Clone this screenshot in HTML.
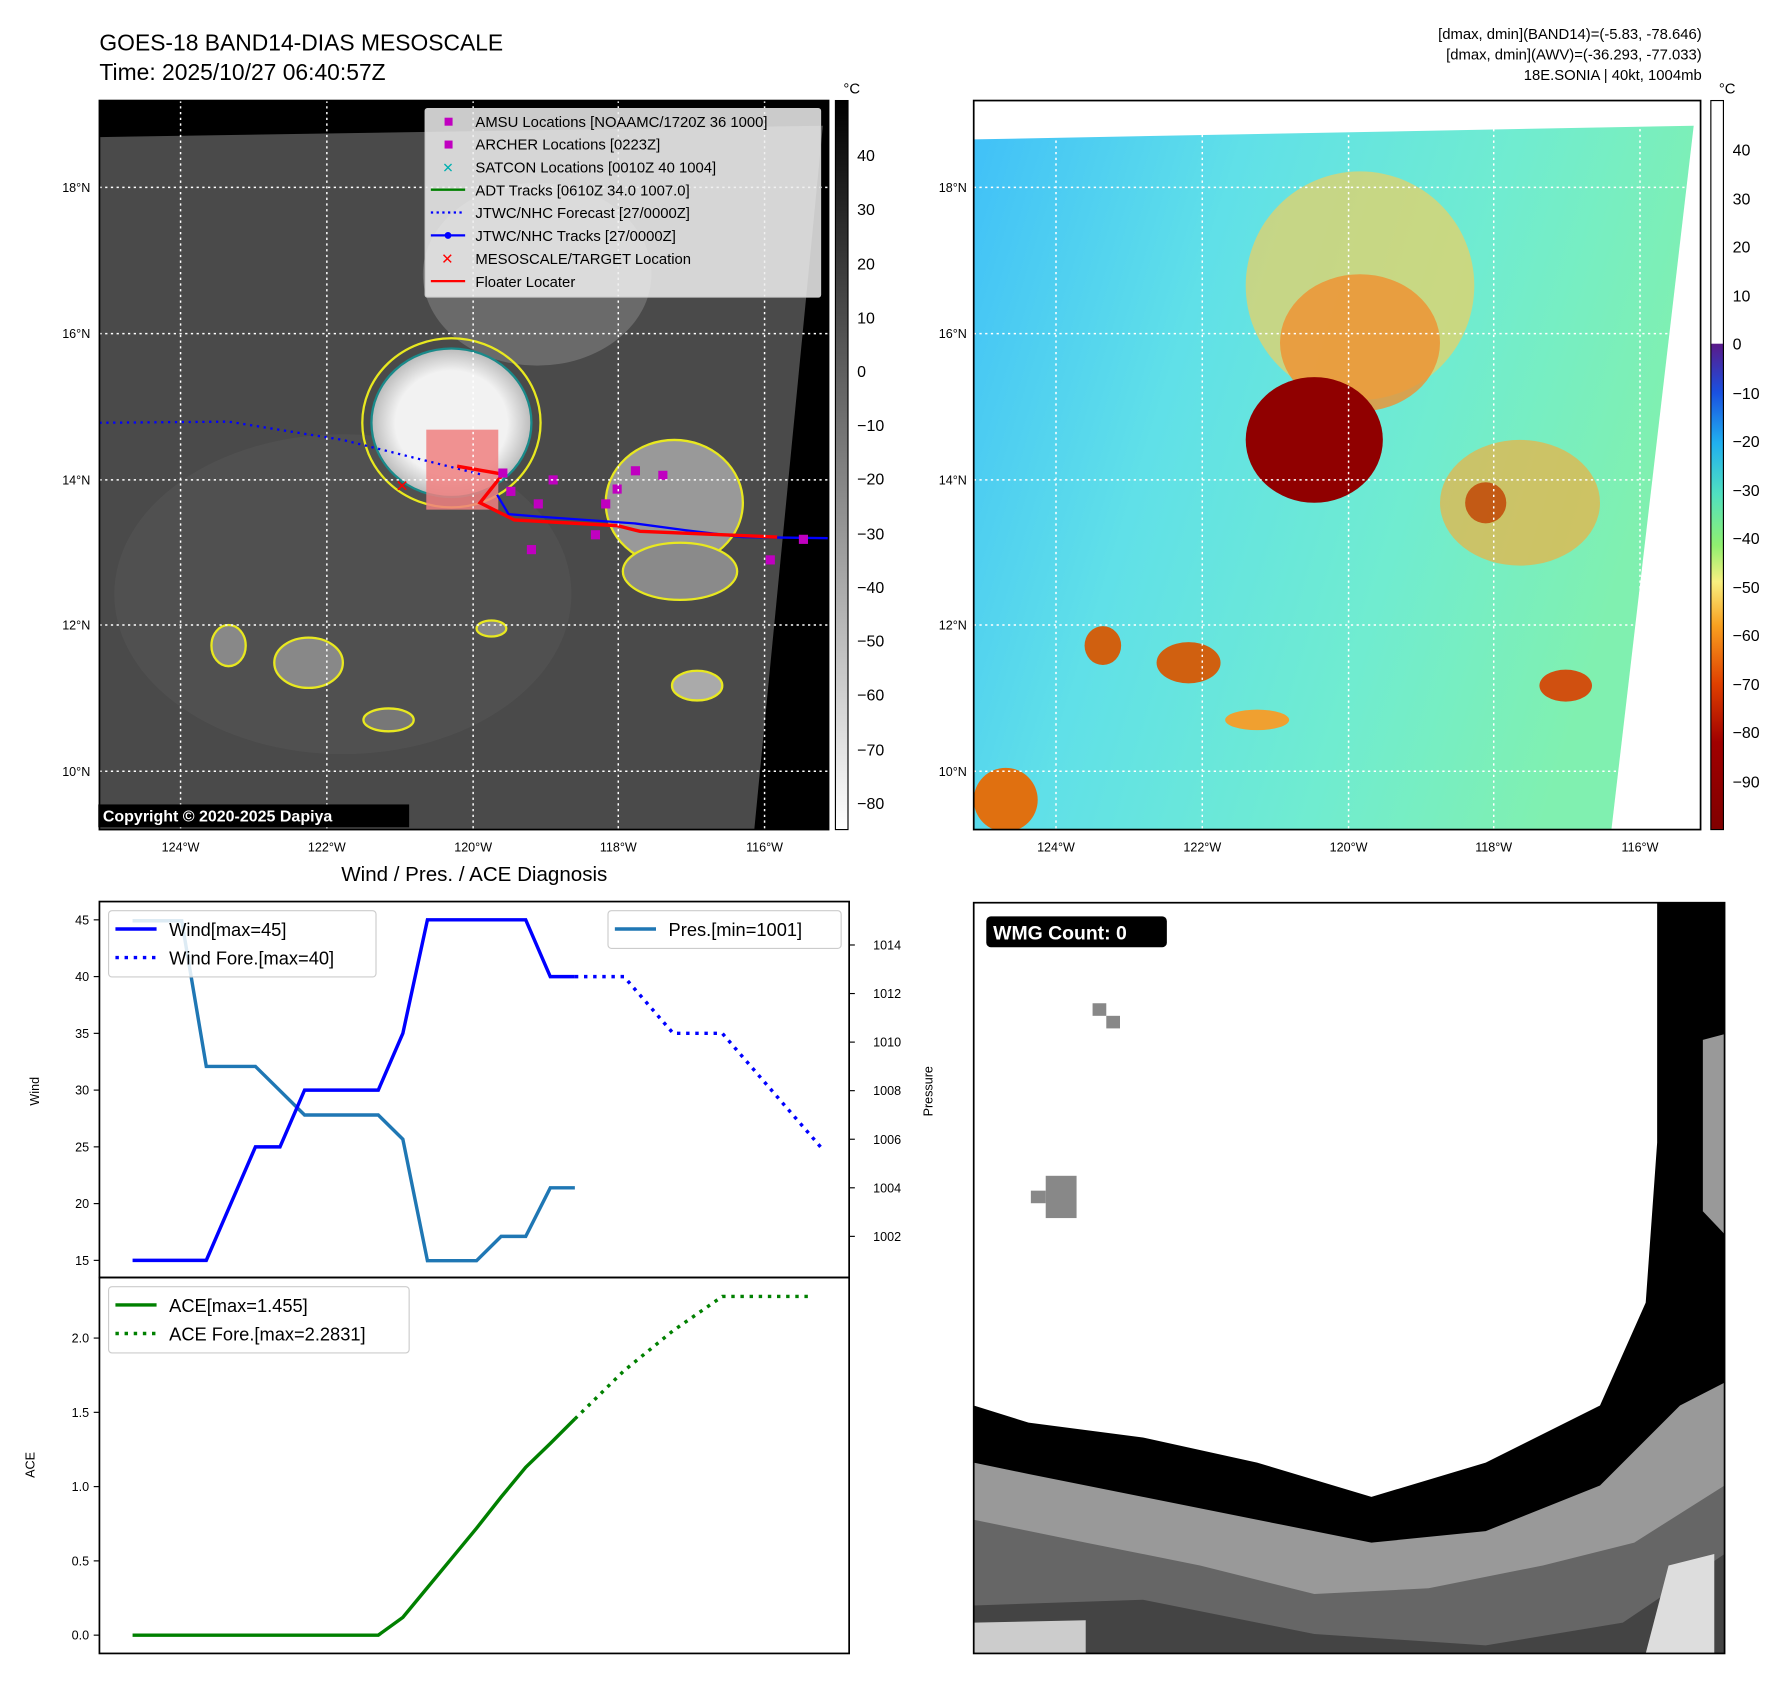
<!DOCTYPE html>
<html><head><meta charset="utf-8"><style>
html,body{margin:0;padding:0;background:#fff}
svg{display:block;font-family:"Liberation Sans","DejaVu Sans",sans-serif}
</style></head><body>
<svg id="root" width="1792" height="1690" viewBox="0 0 1568 1479" preserveAspectRatio="none" xmlns="http://www.w3.org/2000/svg">
<defs>
<linearGradient id="cbGray" x1="0" y1="0" x2="0" y2="1"><stop offset="0" stop-color="#000"/><stop offset="1" stop-color="#fff"/></linearGradient>
<linearGradient id="cbColor" x1="0" y1="0" x2="0" y2="1">
<stop offset="0" stop-color="#fff"/><stop offset="0.333" stop-color="#fff"/><stop offset="0.334" stop-color="#5a1a8a"/><stop offset="0.40" stop-color="#1a50e0"/><stop offset="0.47" stop-color="#20b0f0"/><stop offset="0.54" stop-color="#50e0c0"/><stop offset="0.61" stop-color="#90f070"/><stop offset="0.66" stop-color="#f8f080"/><stop offset="0.72" stop-color="#f8a020"/><stop offset="0.80" stop-color="#e04000"/><stop offset="0.88" stop-color="#a00000"/><stop offset="1" stop-color="#800000"/></linearGradient>
<linearGradient id="ocean" x1="0" y1="0" x2="1" y2="0.3"><stop offset="0" stop-color="#40c0f8"/><stop offset="0.35" stop-color="#60e0e8"/><stop offset="0.7" stop-color="#70ecd0"/><stop offset="1" stop-color="#80f0b0"/></linearGradient>
<radialGradient id="storm" cx="0.5" cy="0.5" r="0.5"><stop offset="0.7" stop-color="#f2f2f2"/><stop offset="1" stop-color="#bbb"/></radialGradient>
<clipPath id="clipL"><rect x="87" y="88" width="638" height="638"/></clipPath>
<clipPath id="clipR"><rect x="852" y="88" width="636" height="638"/></clipPath>
</defs>

<text x="87" y="44" font-size="20">GOES-18 BAND14-DIAS MESOSCALE</text>
<text x="87" y="70" font-size="20">Time: 2025/10/27 06:40:57Z</text>
<g font-size="13" text-anchor="end">
<text x="1489" y="34">[dmax, dmin](BAND14)=(-5.83, -78.646)</text>
<text x="1489" y="52">[dmax, dmin](AWV)=(-36.293, -77.033)</text>
<text x="1489" y="70">18E.SONIA | 40kt, 1004mb</text>
</g>

<g clip-path="url(#clipL)">
<rect x="87" y="88" width="638" height="638" fill="#000"/>
<polygon points="87,120 720,110 660,726 87,726" fill="#4a4a4a"/>
<ellipse cx="300" cy="520" rx="200" ry="140" fill="#555" opacity="0.6"/>
<ellipse cx="470" cy="240" rx="100" ry="80" fill="#6a6a6a"/>
<ellipse cx="395" cy="370" rx="70" ry="65" fill="url(#storm)" stroke="#1a8a8a" stroke-width="2"/>
<ellipse cx="395" cy="370" rx="78" ry="74" fill="none" stroke="#e8e820" stroke-width="2"/>
<ellipse cx="590" cy="440" rx="60" ry="55" fill="#999" stroke="#e8e820" stroke-width="2"/>
<ellipse cx="595" cy="500" rx="50" ry="25" fill="#8a8a8a" stroke="#e8e820" stroke-width="2"/>
<ellipse cx="610" cy="600" rx="22" ry="13" fill="#aaa" stroke="#e8e820" stroke-width="2"/>
<ellipse cx="270" cy="580" rx="30" ry="22" fill="#888" stroke="#e8e820" stroke-width="2"/>
<ellipse cx="200" cy="565" rx="15" ry="18" fill="#888" stroke="#e8e820" stroke-width="2"/>
<ellipse cx="340" cy="630" rx="22" ry="10" fill="#777" stroke="#e8e820" stroke-width="2"/>
<ellipse cx="430" cy="550" rx="13" ry="7" fill="#888" stroke="#e8e820" stroke-width="2"/>
<rect x="373" y="376" width="63" height="70" fill="#f08080" opacity="0.85"/>
<path d="M87,370 L200,369 L300,385 L380,405 L420,415" stroke="#0000ff" stroke-width="2" stroke-dasharray="2,4" fill="none"/>
<path d="M435,433 L445,450 L470,452 L555,458 L600,464 L650,470 L725,471" stroke="#00f" stroke-width="2" fill="none"/>
<path d="M400,408 L440,415 L420,440 L450,455 L540,460 L560,465 L680,470" stroke="#f00" stroke-width="3" fill="none"/>
<text x="346" y="430" fill="#f00" font-size="14">✕</text>
<g fill="#c000c0"><rect x="436" y="410" width="8" height="8"/><rect x="480" y="416" width="8" height="8"/><rect x="443" y="426" width="8" height="8"/><rect x="467" y="437" width="8" height="8"/><rect x="526" y="437" width="8" height="8"/><rect x="536" y="424" width="8" height="8"/><rect x="552" y="408" width="8" height="8"/><rect x="576" y="412" width="8" height="8"/><rect x="517" y="464" width="8" height="8"/><rect x="461" y="477" width="8" height="8"/><rect x="699" y="468" width="8" height="8"/><rect x="670" y="486" width="8" height="8"/></g>
<g stroke="#fff" stroke-width="1.3" stroke-dasharray="2,3"><line x1="158" y1="88" x2="158" y2="726"/><line x1="286" y1="88" x2="286" y2="726"/><line x1="414" y1="88" x2="414" y2="726"/><line x1="541" y1="88" x2="541" y2="726"/><line x1="669" y1="88" x2="669" y2="726"/><line x1="87" y1="164" x2="725" y2="164"/><line x1="87" y1="292" x2="725" y2="292"/><line x1="87" y1="420" x2="725" y2="420"/><line x1="87" y1="547" x2="725" y2="547"/><line x1="87" y1="675" x2="725" y2="675"/></g>
</g>
<rect x="87" y="88" width="638" height="638" fill="none" stroke="#000" stroke-width="1.5"/>
<rect x="86" y="704" width="272" height="20" fill="#000"/>
<text x="90" y="719" font-size="14" font-weight="bold" fill="#fff">Copyright © 2020-2025 Dapiya</text>

<g font-size="13">
<rect x="372" y="95" width="346" height="165" fill="#eee" fill-opacity="0.85" stroke="#ccc" rx="2"/>
<rect x="389" y="103" width="7" height="7" fill="#c000c0"/><text x="416" y="111">AMSU Locations [NOAAMC/1720Z 36 1000]</text>
<rect x="389" y="123" width="7" height="7" fill="#c000c0"/><text x="416" y="131">ARCHER Locations [0223Z]</text>
<text x="387" y="151" fill="#00b0b0" font-size="12">✕</text><text x="416" y="151">SATCON Locations [0010Z 40 1004]</text>
<line x1="377" y1="166" x2="407" y2="166" stroke="#008000" stroke-width="2"/><text x="416" y="171">ADT Tracks [0610Z 34.0 1007.0]</text>
<line x1="377" y1="186" x2="407" y2="186" stroke="#00f" stroke-width="2" stroke-dasharray="2,3"/><text x="416" y="191">JTWC/NHC Forecast [27/0000Z]</text>
<line x1="377" y1="206" x2="407" y2="206" stroke="#00f" stroke-width="2"/><circle cx="392" cy="206" r="3" fill="#00f"/><text x="416" y="211">JTWC/NHC Tracks [27/0000Z]</text>
<text x="386" y="231" fill="#f00" font-size="13">✕</text><text x="416" y="231">MESOSCALE/TARGET Location</text>
<line x1="377" y1="246" x2="407" y2="246" stroke="#f00" stroke-width="2"/><text x="416" y="251">Floater Locater</text>
</g>

<rect x="731" y="88" width="11" height="638" fill="url(#cbGray)" stroke="#000"/>
<text x="738" y="82" font-size="13">°C</text>
<g font-size="14">
<text x="750" y="141">40</text><text x="750" y="188">30</text><text x="750" y="236">20</text><text x="750" y="283">10</text><text x="750" y="330">0</text><text x="750" y="377">−10</text><text x="750" y="424">−20</text><text x="750" y="472">−30</text><text x="750" y="519">−40</text><text x="750" y="566">−50</text><text x="750" y="613">−60</text><text x="750" y="661">−70</text><text x="750" y="708">−80</text></g>

<g clip-path="url(#clipR)">
<rect x="852" y="88" width="636" height="638" fill="#fff"/>
<polygon points="852,122 1482,110 1410,726 852,726" fill="url(#ocean)"/>
<ellipse cx="1190" cy="250" rx="100" ry="100" fill="#f0d060" opacity="0.7"/>
<ellipse cx="1190" cy="300" rx="70" ry="60" fill="#f09030" opacity="0.8"/>
<ellipse cx="1150" cy="385" rx="60" ry="55" fill="#900000"/>
<ellipse cx="1330" cy="440" rx="70" ry="55" fill="#f0b040" opacity="0.7"/>
<ellipse cx="1300" cy="440" rx="18" ry="18" fill="#c04000" opacity="0.8"/>
<ellipse cx="1370" cy="600" rx="23" ry="14" fill="#d05010"/>
<ellipse cx="1040" cy="580" rx="28" ry="18" fill="#d06010"/>
<ellipse cx="965" cy="565" rx="16" ry="17" fill="#d06010"/>
<ellipse cx="1100" cy="630" rx="28" ry="9" fill="#f0a030"/>
<ellipse cx="880" cy="700" rx="28" ry="28" fill="#e07010"/>
<g stroke="#fff" stroke-width="1.3" stroke-dasharray="2,3"><line x1="924" y1="88" x2="924" y2="726"/><line x1="1052" y1="88" x2="1052" y2="726"/><line x1="1180" y1="88" x2="1180" y2="726"/><line x1="1307" y1="88" x2="1307" y2="726"/><line x1="1435" y1="88" x2="1435" y2="726"/><line x1="852" y1="164" x2="1488" y2="164"/><line x1="852" y1="292" x2="1488" y2="292"/><line x1="852" y1="420" x2="1488" y2="420"/><line x1="852" y1="547" x2="1488" y2="547"/><line x1="852" y1="675" x2="1488" y2="675"/></g>
</g>
<rect x="852" y="88" width="636" height="638" fill="none" stroke="#000" stroke-width="1.5"/>
<rect x="1497" y="88" width="11" height="638" fill="url(#cbColor)" stroke="#000"/>
<text x="1504" y="82" font-size="13">°C</text>
<g font-size="14">
<text x="1516" y="136">40</text><text x="1516" y="179">30</text><text x="1516" y="221">20</text><text x="1516" y="264">10</text><text x="1516" y="306">0</text><text x="1516" y="349">−10</text><text x="1516" y="391">−20</text><text x="1516" y="434">−30</text><text x="1516" y="476">−40</text><text x="1516" y="519">−50</text><text x="1516" y="561">−60</text><text x="1516" y="604">−70</text><text x="1516" y="646">−80</text><text x="1516" y="689">−90</text></g>

<g font-size="11" text-anchor="middle">
<text x="158" y="745">124°W</text><text x="286" y="745">122°W</text><text x="414" y="745">120°W</text><text x="541" y="745">118°W</text><text x="669" y="745">116°W</text>
<text x="924" y="745">124°W</text><text x="1052" y="745">122°W</text><text x="1180" y="745">120°W</text><text x="1307" y="745">118°W</text><text x="1435" y="745">116°W</text></g>
<g font-size="11" text-anchor="end">
<text x="79" y="168">18°N</text><text x="79" y="296">16°N</text><text x="79" y="424">14°N</text><text x="79" y="551">12°N</text><text x="79" y="679">10°N</text>
<text x="846" y="168">18°N</text><text x="846" y="296">16°N</text><text x="846" y="424">14°N</text><text x="846" y="551">12°N</text><text x="846" y="679">10°N</text></g>

<text x="415" y="771" font-size="18" text-anchor="middle">Wind / Pres. / ACE Diagnosis</text>

<g>
<rect x="852" y="790" width="657" height="657" fill="#fff"/>
<polygon points="1450,790 1509,790 1509,1447 852,1447 852,1230 900,1245 1000,1258 1100,1280 1200,1310 1300,1280 1400,1230 1440,1140 1450,1000" fill="#000"/>
<polygon points="1509,1210 1470,1230 1400,1300 1300,1340 1200,1350 1100,1330 1000,1310 900,1290 852,1280 852,1447 1509,1447" fill="#999"/>
<polygon points="852,1330 950,1350 1050,1370 1150,1395 1250,1390 1350,1370 1430,1350 1509,1300 1509,1447 852,1447" fill="#666"/>
<polygon points="852,1405 1000,1400 1150,1430 1300,1440 1420,1420 1509,1360 1509,1447 852,1447" fill="#444"/>
<polygon points="852,1420 950,1418 950,1447 852,1447" fill="#ccc"/>
<polygon points="1460,1370 1500,1360 1500,1447 1440,1447" fill="#ddd"/>
<polygon points="1490,910 1509,905 1509,1080 1490,1060" fill="#999"/>
<rect x="956" y="878" width="12" height="11" fill="#888"/><rect x="968" y="889" width="12" height="11" fill="#888"/>
<rect x="915" y="1029" width="27" height="37" fill="#888"/><rect x="902" y="1042" width="13" height="11" fill="#888"/>
<rect x="852" y="790" width="657" height="657" fill="none" stroke="#000" stroke-width="1.5"/>
<rect x="863" y="802" width="158" height="27" rx="4" fill="#000"/>
<text x="869" y="822" font-size="17" font-weight="bold" fill="#fff">WMG Count: 0</text>
</g>

<g id="windAx"></g>
<g id="aceAx"></g>
</svg>
<script>
const hours = [0,6,12,18,24,30,36,42,48,54,60,66,72,78,84,90,96,102,108];
const windValues = [15,15,15,15,20,25,25,30,30,30,30,35,45,45,45,45,45,40,40];
const presValues = [1015,1015,1015,1009,1009,1009,1008,1007,1007,1007,1007,1006,1001,1001,1001,1002,1002,1004,1004];
const foreHours = [108,120,132,144,168];
const foreWind = [40,40,35,35,25];
const aceValues = [0,0,0,0,0,0,0,0,0,0,0,0.12,0.32,0.52,0.72,0.93,1.13,1.29,1.455];
const aceForeHours = [108,120,132,144,166];
const aceFore = [1.455,1.78,2.05,2.28,2.28];
const windTicks = [15,20,25,30,35,40,45];
const presTicks = [1002,1004,1006,1008,1010,1012,1014];
const aceTicks = [0.0,0.5,1.0,1.5,2.0];

const NS='http://www.w3.org/2000/svg';
function mk(parent,tag,attrs){const e=document.createElementNS(NS,tag);for(const k in attrs)e.setAttribute(k,attrs[k]);parent.appendChild(e);return e;}
const X = h => 116 + (h/6)*21.5;
const Yw = v => 1103 - (v-15)*(298/30);
const Yp = v => 1082 - (v-1002)*(255/12);
const Ya = v => 1431 - v*130;
function pathD(xs,ys,fx,fy){return xs.map((x,i)=>(i?'L':'M')+fx(x).toFixed(1)+','+fy(ys[i]).toFixed(1)).join(' ');}

const wg=document.getElementById('windAx');
const ag=document.getElementById('aceAx');
let f1=mk(wg,'rect',{x:87,y:789,width:656,height:329,fill:'none',stroke:'#000','stroke-width':1.5});


let f2=mk(ag,'rect',{x:87,y:1118,width:656,height:329,fill:'none',stroke:'#000','stroke-width':1.5});



windTicks.forEach(v=>{const y=Yw(v);mk(wg,'line',{x1:82,y1:y,x2:87,y2:y,stroke:'#000'});const t=mk(wg,'text',{x:78,y:y+4,'font-size':11,'text-anchor':'end'});t.textContent=v;

});
presTicks.forEach(v=>{const y=Yp(v);mk(wg,'line',{x1:743,y1:y,x2:748,y2:y,stroke:'#000'});const t=mk(wg,'text',{x:764,y:y+4,'font-size':11});t.textContent=v;

});
aceTicks.forEach(v=>{const y=Ya(v);mk(ag,'line',{x1:82,y1:y,x2:87,y2:y,stroke:'#000'});const t=mk(ag,'text',{x:78,y:y+4,'font-size':11,'text-anchor':'end'});t.textContent=v.toFixed(1);

});
let yl=mk(wg,'text',{x:34,y:955,'font-size':11,'text-anchor':'middle',transform:'rotate(-90 34 955)'});yl.textContent='Wind';


let pl=mk(wg,'text',{x:816,y:955,'font-size':11,'text-anchor':'middle',transform:'rotate(-90 816 955)'});pl.textContent='Pressure';


let al=mk(ag,'text',{x:30,y:1282,'font-size':11,'text-anchor':'middle',transform:'rotate(-90 30 1282)'});al.textContent='ACE';



let pp=mk(wg,'path',{d:pathD(hours,presValues,X,Yp),fill:'none',stroke:'#1f77b4','stroke-width':3});


let wp=mk(wg,'path',{d:pathD(hours,windValues,X,Yw),fill:'none',stroke:'#0000ff','stroke-width':3});


let wf=mk(wg,'path',{d:pathD(foreHours,foreWind,X,Yw),fill:'none',stroke:'#0000ff','stroke-width':3,'stroke-dasharray':'3,5'});


let ap=mk(ag,'path',{d:pathD(hours,aceValues,X,Ya),fill:'none',stroke:'#008000','stroke-width':3});


let af=mk(ag,'path',{d:pathD(aceForeHours,aceFore,X,Ya),fill:'none',stroke:'#008000','stroke-width':3,'stroke-dasharray':'3,5'});



function legend(g,x,y,w,entries,name){const lg=mk(g,'g',{});


mk(lg,'rect',{x:x,y:y,width:w,height:entries.length*25+8,fill:'#fff','fill-opacity':0.85,stroke:'#ccc',rx:3});
entries.forEach((e,i)=>{const yy=y+16+i*25;mk(lg,'line',{x1:x+6,y1:yy,x2:x+42,y2:yy,stroke:e[1],'stroke-width':3,'stroke-dasharray':e[2]?'3,5':'none'});const t=mk(lg,'text',{x:x+53,y:yy+6,'font-size':16});t.textContent=e[0];});}
legend(wg,95,797,234,[['Wind[max=45]','#0000ff',0],['Wind Fore.[max=40]','#0000ff',1]],'wind-legend');
legend(wg,532,797,204,[['Pres.[min=1001]','#1f77b4',0]],'pressure-legend');
legend(ag,95,1126,263,[['ACE[max=1.455]','#008000',0],['ACE Fore.[max=2.2831]','#008000',1]],'ace-legend');
</script>
</body></html>
